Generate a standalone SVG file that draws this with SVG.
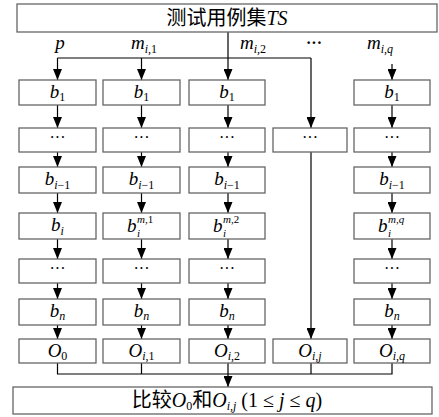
<svg xmlns="http://www.w3.org/2000/svg" width="439" height="417" viewBox="0 0 439 417">
<style>
.box{fill:#fff;stroke:#666;stroke-width:1.3}
.ln{fill:none;stroke:#000;stroke-width:1.2}
.ar{marker-end:url(#ah)}
.m{font-family:"Liberation Serif","DejaVu Serif",serif;font-style:italic;font-size:19px;fill:#000}
.t{font-family:"Liberation Serif","DejaVu Serif",serif;font-size:20px;fill:#000;text-anchor:middle}
.s{font-size:12px;font-style:normal}
.si{font-size:12px;font-style:italic}
.ss{font-family:"Liberation Serif","DejaVu Serif",serif;font-size:11px;font-style:italic;fill:#000}
.sn{font-size:11px;font-style:normal}
.d{font-family:"Liberation Serif","DejaVu Serif",serif;font-size:16px;fill:#000;text-anchor:middle}
.cn{font-family:"Noto Sans CJK SC","Liberation Serif",sans-serif;font-style:normal}
.c{text-anchor:middle}
</style>
<defs>
<marker id="ah" viewBox="0 0 11 9" refX="11" refY="4.5" markerWidth="11" markerHeight="9" markerUnits="userSpaceOnUse" orient="auto">
<path d="M0,0 L11,4.5 L0,9 z" fill="#000"/>
</marker>
</defs>
<g id="connectors">
<path class="ln" d="M228,32 V58 M57.5,58 H311"/>
<line class="ln ar" x1="57.5" y1="58" x2="57.5" y2="80"/>
<line class="ln ar" x1="141.5" y1="58" x2="141.5" y2="80"/>
<line class="ln ar" x1="228" y1="58" x2="228" y2="80"/>
<line class="ln ar" x1="311" y1="58" x2="311" y2="128"/>
<line class="ln ar" x1="392" y1="64" x2="392" y2="80"/>
<line class="ln ar" x1="311" y1="152" x2="311" y2="339"/>
<g id="col1arrows">
<line class="ln ar" x1="57.5" y1="105" x2="57.5" y2="128"/>
<line class="ln ar" x1="57.5" y1="152" x2="57.5" y2="167"/>
<line class="ln ar" x1="57.5" y1="193" x2="57.5" y2="213"/>
<line class="ln ar" x1="57.5" y1="239" x2="57.5" y2="259"/>
<line class="ln ar" x1="57.5" y1="283" x2="57.5" y2="299"/>
<line class="ln ar" x1="57.5" y1="325" x2="57.5" y2="339"/>
</g>
<g id="col2arrows">
<line class="ln ar" x1="141.5" y1="105" x2="141.5" y2="128"/>
<line class="ln ar" x1="141.5" y1="152" x2="141.5" y2="167"/>
<line class="ln ar" x1="141.5" y1="193" x2="141.5" y2="213"/>
<line class="ln ar" x1="141.5" y1="239" x2="141.5" y2="259"/>
<line class="ln ar" x1="141.5" y1="283" x2="141.5" y2="299"/>
<line class="ln ar" x1="141.5" y1="325" x2="141.5" y2="339"/>
</g>
<g id="col3arrows">
<line class="ln ar" x1="228" y1="105" x2="228" y2="128"/>
<line class="ln ar" x1="228" y1="152" x2="228" y2="167"/>
<line class="ln ar" x1="228" y1="193" x2="228" y2="213"/>
<line class="ln ar" x1="228" y1="239" x2="228" y2="259"/>
<line class="ln ar" x1="228" y1="283" x2="228" y2="299"/>
<line class="ln ar" x1="228" y1="325" x2="228" y2="339"/>
</g>
<g id="col5arrows">
<line class="ln ar" x1="392" y1="105" x2="392" y2="128"/>
<line class="ln ar" x1="392" y1="152" x2="392" y2="167"/>
<line class="ln ar" x1="392" y1="193" x2="392" y2="213"/>
<line class="ln ar" x1="392" y1="239" x2="392" y2="259"/>
<line class="ln ar" x1="392" y1="283" x2="392" y2="299"/>
<line class="ln ar" x1="392" y1="325" x2="392" y2="339"/>
</g>
<path class="ln" d="M57.5,363 V374 H392 V363 M141.5,363 V374 M311,363 V374"/>
<line class="ln ar" x1="228" y1="363" x2="228" y2="387"/>
</g>
<g id="labels">
<text class="m c" x="60" y="49">p</text>
<text class="m" x="131" y="49">m<tspan class="si" dy="4">i</tspan><tspan class="s">,1</tspan></text>
<text class="m" x="240" y="49">m<tspan class="si" dy="4">i</tspan><tspan class="s">,2</tspan></text>
<text class="d" x="314" y="48" font-weight="bold">···</text>
<text class="m" x="367" y="49">m<tspan class="si" dy="4">i</tspan><tspan class="s">,</tspan><tspan class="si">q</tspan></text>
</g>
<g id="ts">
<rect class="box" x="17" y="4" width="420" height="28"/>
<text class="t" x="227" y="25"><tspan class="cn">测试用例集</tspan><tspan font-style="italic">TS</tspan></text>
</g>
<g id="col1">
<rect class="box" x="19" y="80" width="77" height="25"/>
<text class="m c" x="57.5" y="98">b<tspan class="s" dy="3">1</tspan></text>
<rect class="box" x="19" y="128" width="77" height="24"/>
<text class="d" x="57.5" y="143">···</text>
<rect class="box" x="19" y="167" width="77" height="26"/>
<text class="m c" x="57.5" y="185">b<tspan class="si" dy="4">i</tspan><tspan class="s">−1</tspan></text>
<rect class="box" x="19" y="213" width="77" height="26"/>
<text class="m c" x="57.5" y="231">b<tspan class="si" dy="4">i</tspan></text>
<rect class="box" x="19" y="259" width="77" height="24"/>
<text class="d" x="57.5" y="274">···</text>
<rect class="box" x="19" y="299" width="77" height="26"/>
<text class="m c" x="57.5" y="317">b<tspan class="si" dy="3">n</tspan></text>
<rect class="box" x="19" y="339" width="77" height="24"/>
<text class="m c" x="57.5" y="357">O<tspan class="s" dy="3">0</tspan></text>
</g>
<g id="col2">
<rect class="box" x="103" y="80" width="77" height="25"/>
<text class="m c" x="141.5" y="98">b<tspan class="s" dy="3">1</tspan></text>
<rect class="box" x="103" y="128" width="77" height="24"/>
<text class="d" x="141.5" y="143">···</text>
<rect class="box" x="103" y="167" width="77" height="26"/>
<text class="m c" x="141.5" y="185">b<tspan class="si" dy="4">i</tspan><tspan class="s">−1</tspan></text>
<rect class="box" x="103" y="213" width="77" height="26"/>
<text class="m" x="127" y="232">b</text>
<text class="ss" x="137" y="237">i</text>
<text class="ss" x="137" y="223">m<tspan class="sn">,1</tspan></text>
<rect class="box" x="103" y="259" width="77" height="24"/>
<text class="d" x="141.5" y="274">···</text>
<rect class="box" x="103" y="299" width="77" height="26"/>
<text class="m c" x="141.5" y="317">b<tspan class="si" dy="3">n</tspan></text>
<rect class="box" x="103" y="339" width="77" height="24"/>
<text class="m c" x="141.5" y="357">O<tspan class="si" dy="3">i</tspan><tspan class="s">,1</tspan></text>
</g>
<g id="col3">
<rect class="box" x="189" y="80" width="76" height="25"/>
<text class="m c" x="227" y="98">b<tspan class="s" dy="3">1</tspan></text>
<rect class="box" x="189" y="128" width="76" height="24"/>
<text class="d" x="227" y="143">···</text>
<rect class="box" x="189" y="167" width="76" height="26"/>
<text class="m c" x="227" y="185">b<tspan class="si" dy="4">i</tspan><tspan class="s">−1</tspan></text>
<rect class="box" x="189" y="213" width="76" height="26"/>
<text class="m" x="213" y="232">b</text>
<text class="ss" x="223" y="237">i</text>
<text class="ss" x="223" y="223">m<tspan class="sn">,2</tspan></text>
<rect class="box" x="189" y="259" width="76" height="24"/>
<text class="d" x="227" y="274">···</text>
<rect class="box" x="189" y="299" width="76" height="26"/>
<text class="m c" x="227" y="317">b<tspan class="si" dy="3">n</tspan></text>
<rect class="box" x="189" y="339" width="76" height="24"/>
<text class="m c" x="227" y="357">O<tspan class="si" dy="3">i</tspan><tspan class="s">,2</tspan></text>
</g>
<g id="col4">
<rect class="box" x="273" y="128" width="74" height="24"/>
<text class="d" x="310" y="143">···</text>
<rect class="box" x="273" y="339" width="74" height="24"/>
<text class="m c" x="310" y="357">O<tspan class="si" dy="3">i</tspan><tspan class="s">,</tspan><tspan class="si">j</tspan></text>
</g>
<g id="col5">
<rect class="box" x="354" y="80" width="76" height="25"/>
<text class="m c" x="392" y="98">b<tspan class="s" dy="3">1</tspan></text>
<rect class="box" x="354" y="128" width="76" height="24"/>
<text class="d" x="392" y="143">···</text>
<rect class="box" x="354" y="167" width="76" height="26"/>
<text class="m c" x="392" y="185">b<tspan class="si" dy="4">i</tspan><tspan class="s">−1</tspan></text>
<rect class="box" x="354" y="213" width="76" height="26"/>
<text class="m" x="378" y="232">b</text>
<text class="ss" x="388" y="237">i</text>
<text class="ss" x="388" y="223">m<tspan class="sn">,</tspan>q</text>
<rect class="box" x="354" y="259" width="76" height="24"/>
<text class="d" x="392" y="274">···</text>
<rect class="box" x="354" y="299" width="76" height="26"/>
<text class="m c" x="392" y="317">b<tspan class="si" dy="3">n</tspan></text>
<rect class="box" x="354" y="339" width="76" height="24"/>
<text class="m c" x="392" y="357">O<tspan class="si" dy="3">i</tspan><tspan class="s">,</tspan><tspan class="si">q</tspan></text>
</g>
<g id="compare">
<rect class="box" x="13" y="387" width="419" height="27"/>
<text class="t" x="227" y="407"><tspan class="cn">比较</tspan><tspan font-style="italic">O</tspan><tspan class="s" dy="3">0</tspan><tspan class="cn" dy="-3">和</tspan><tspan font-style="italic">O</tspan><tspan class="si" dy="3">i</tspan><tspan class="s">,</tspan><tspan class="si">j</tspan><tspan dy="-3"> (1 ≤ </tspan><tspan font-style="italic">j</tspan><tspan> ≤ </tspan><tspan font-style="italic">q</tspan><tspan>)</tspan></text>
</g>
</svg>
